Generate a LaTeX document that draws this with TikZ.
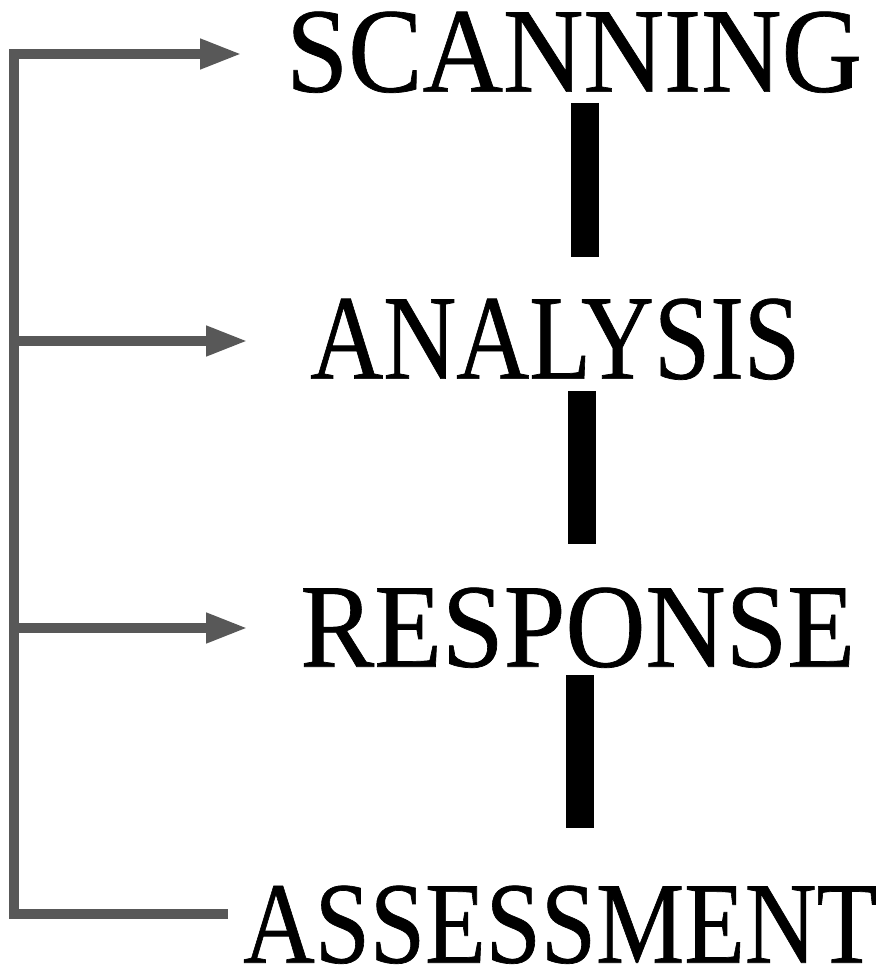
\documentclass[tikz,border=0pt]{standalone}
\usepackage{fontspec}
\setmainfont{Liberation Serif}
\newfontfamily\wordfont{Liberation Serif}[FakeBold=0.6]
\usetikzlibrary{arrows.meta}
\definecolor{loopgray}{RGB}{88,88,88}
\newcommand\wordbox[3]{\resizebox{#1pt}{#2pt}{\wordfont\fontsize{100}{100}\selectfont #3}}
\begin{document}
\begin{tikzpicture}[x=1pt,y=-1pt,
  word/.style={inner sep=0pt, anchor=south west, text=black},
  loopline/.style={draw=loopgray, line width=10pt, line join=miter},
  looparrow/.style={loopline, -{Triangle[length=42pt,width=28pt]}},
  flowbar/.style={draw=black, line width=28pt}]
\useasboundingbox (0,0) rectangle (887,971);
\fill[white] (0,0) rectangle (887,971);
% words
\node[word] (scan) at (286,93)  {\wordbox{576}{80}{SCANNING}};
\node[word] (anal) at (310,380) {\wordbox{490}{80}{ANALYSIS}};
\node[word] (resp) at (300,668) {\wordbox{555}{79}{RESPONSE}};
\node[word] (asse) at (243,964) {\wordbox{634}{77}{ASSESSMENT}};
% vertical bars between the words
\coordinate (b1t) at (585,103); \coordinate (b1b) at (585,257);
\coordinate (b2t) at (582,391); \coordinate (b2b) at (582,544);
\coordinate (b3t) at (580,675); \coordinate (b3b) at (580,828);
\draw[flowbar] (b1t) -- (b1b);
\draw[flowbar] (b2t) -- (b2b);
\draw[flowbar] (b3t) -- (b3b);
% feedback loop
\coordinate (bend) at (228,914);
\coordinate (cbl) at (14,914);
\coordinate (ctl) at (14,54);
\coordinate (t1) at (242,54);
\coordinate (j2) at (14,341);
\coordinate (t2) at (248,341);
\coordinate (j3) at (14,628);
\coordinate (t3) at (248,628);
\draw[looparrow] (bend) -- (cbl) -- (ctl) -- (t1);
\draw[looparrow] (j2) -- (t2);
\draw[looparrow] (j3) -- (t3);
\end{tikzpicture}
\end{document}
